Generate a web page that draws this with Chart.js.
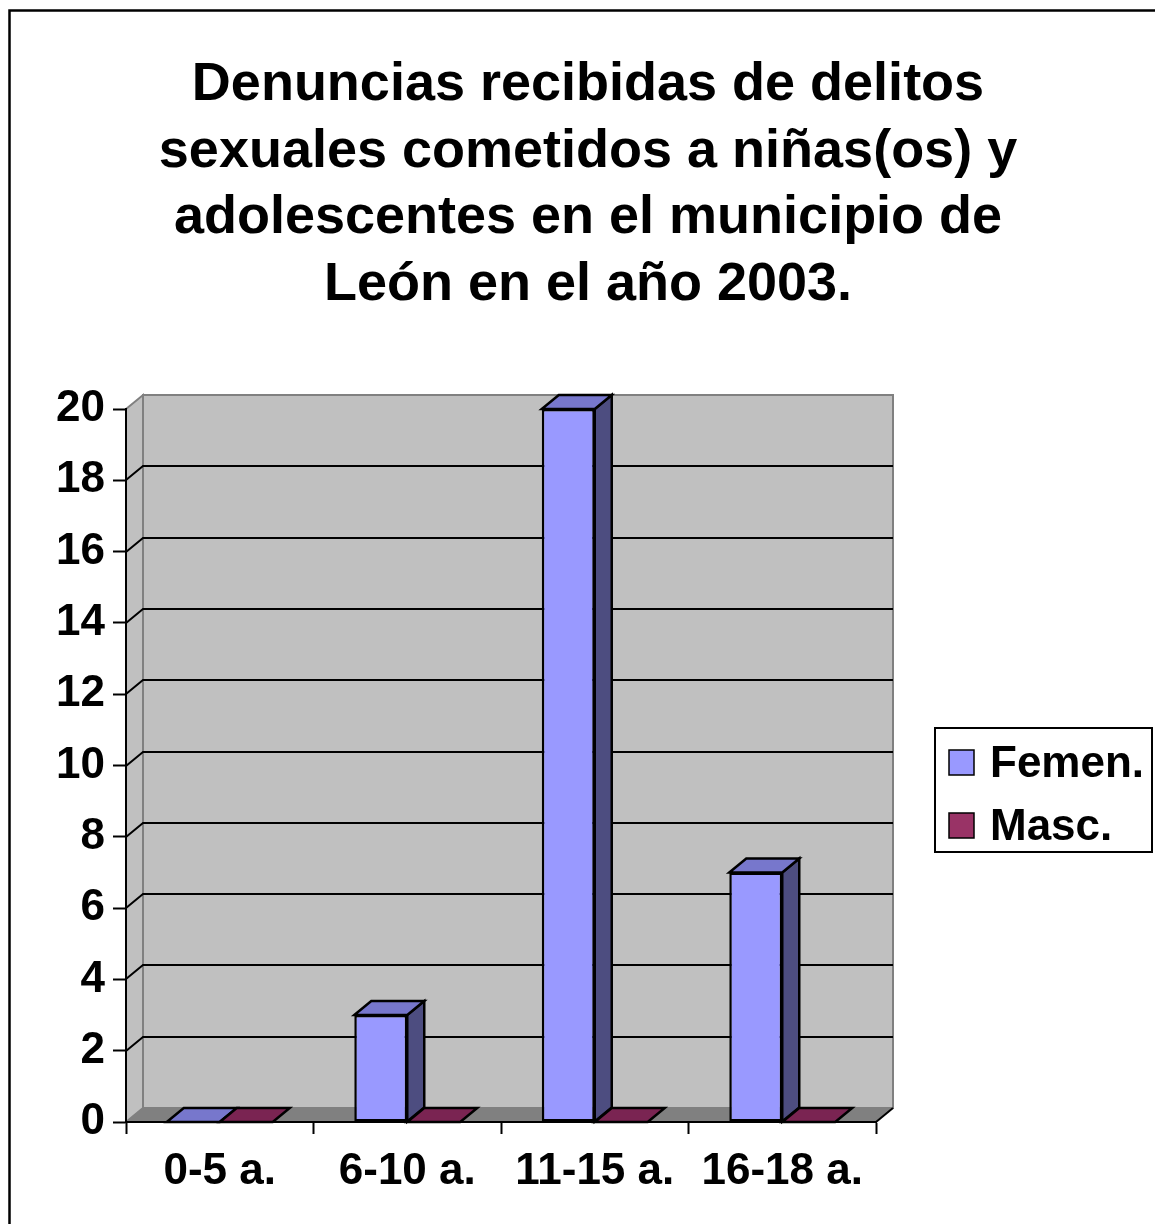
<!DOCTYPE html>
<html>
<head>
<meta charset="utf-8">
<script src="https://cdn.jsdelivr.net/npm/chart.js@4.4.0/dist/chart.umd.min.js"></script>
<style>
  html, body { margin: 0; padding: 0; background: #fff; }
  #wrap { width: 1155px; height: 1224px; position: relative; }
</style>
</head>
<body>
<div id="wrap"><canvas id="chart" width="1155" height="1224"></canvas></div>
<script>
const titleLines = [
  'Denuncias recibidas de delitos',
  'sexuales cometidos a niñas(os) y',
  'adolescentes en el municipio de',
  'León en el año 2003.'
];
const categories = ['0-5 a.', '6-10 a.', '11-15 a.', '16-18 a.'];
const femenValues = [0, 3, 20, 7];
const mascValues = [0, 0, 0, 0];
const seriesNames = ['Femen.', 'Masc.'];
const yMax = 20;
const yStep = 2;

const FONT = '"Liberation Sans", Arial, Helvetica, sans-serif';
// desplazamiento de la profundidad 3D
const DX = 17, DY = -14;
const faceColors = [
  { front: '#9999FF', top: '#7777CC', side: '#4D4D80' },
  { front: '#993366', top: '#7A2452', side: '#4D1A33' }
];

function poly(ctx, pts, fill, stroke, lw) {
  ctx.beginPath();
  ctx.moveTo(pts[0][0], pts[0][1]);
  for (let i = 1; i < pts.length; i++) ctx.lineTo(pts[i][0], pts[i][1]);
  ctx.closePath();
  if (fill) { ctx.fillStyle = fill; ctx.fill(); }
  if (stroke) { ctx.strokeStyle = stroke; ctx.lineWidth = lw; ctx.stroke(); }
}

const box3d = {
  id: 'box3d',
  beforeDraw(chart) {
    const ctx = chart.ctx;
    const { left, right, top, bottom } = chart.chartArea;
    const y = chart.scales.y;
    ctx.save();
    ctx.fillStyle = '#fff';
    ctx.fillRect(0, 0, chart.width, chart.height);

    // marco exterior
    ctx.strokeStyle = '#000';
    ctx.lineWidth = 2.5;
    ctx.strokeRect(9.5, 10.5, 1300, 1400);

    // titulo
    ctx.fillStyle = '#000';
    ctx.font = 'bold 54px ' + FONT;
    ctx.textAlign = 'center';
    ctx.textBaseline = 'alphabetic';
    titleLines.forEach((t, i) => ctx.fillText(t, 588, 100 + i * 66.7));

    // pared lateral, pared de fondo y piso
    poly(ctx, [[left, top], [left + DX, top + DY], [left + DX, bottom + DY], [left, bottom]], '#C0C0C0', '#808080', 2);
    poly(ctx, [[left + DX, top + DY], [right + DX, top + DY], [right + DX, bottom + DY], [left + DX, bottom + DY]], '#C0C0C0', '#808080', 2);
    poly(ctx, [[left, bottom], [left + DX, bottom + DY], [right + DX, bottom + DY], [right, bottom]], '#808080', null, 0);
    ctx.strokeStyle = '#000';
    ctx.lineWidth = 2;
    ctx.beginPath();
    ctx.moveTo(right, bottom);
    ctx.lineTo(right + DX, bottom + DY);
    ctx.stroke();

    // lineas de division
    for (let v = yStep; v < yMax; v += yStep) {
      const py = Math.round(y.getPixelForValue(v));
      ctx.beginPath();
      ctx.moveTo(left, py);
      ctx.lineTo(left + DX, py + DY);
      ctx.lineTo(right + DX, py + DY);
      ctx.stroke();
    }
    ctx.restore();
  },
  beforeDatasetsDraw(chart) {
    const ctx = chart.ctx;
    ctx.save();
    ctx.lineJoin = 'miter';
    chart.data.datasets.forEach((ds, di) => {
      const meta = chart.getDatasetMeta(di);
      const c = faceColors[di];
      meta.data.forEach(bar => {
        const x0 = bar.x - bar.width / 2;
        const x1 = bar.x + bar.width / 2;
        const yt = bar.y, yb = bar.base;
        // cara lateral
        if (yb - yt > 0.5) {
          poly(ctx, [[x1, yt], [x1 + DX, yt + DY], [x1 + DX, yb + DY], [x1, yb]], c.side, '#000', 2.5);
        }
        // cara superior
        poly(ctx, [[x0, yt], [x0 + DX, yt + DY], [x1 + DX, yt + DY], [x1, yt]], c.top, '#000', 2.5);
      });
    });
    ctx.restore();
  },
  afterDraw(chart) {
    const ctx = chart.ctx;
    ctx.save();
    // leyenda
    ctx.strokeStyle = '#000';
    ctx.lineWidth = 2;
    ctx.strokeRect(935, 728, 217, 124);
    ctx.font = 'bold 44px ' + FONT;
    ctx.textAlign = 'left';
    ctx.textBaseline = 'alphabetic';
    chart.data.datasets.forEach((ds, i) => {
      const sy = 750 + i * 63;
      ctx.fillStyle = ds.backgroundColor;
      ctx.fillRect(949, sy, 25, 25);
      ctx.lineWidth = 1.5;
      ctx.strokeRect(949, sy, 25, 25);
      ctx.fillStyle = '#000';
      ctx.fillText(ds.label, 990, sy + 27);
    });
    ctx.restore();
  }
};

new Chart(document.getElementById('chart'), {
  type: 'bar',
  data: {
    labels: categories,
    datasets: [
      { label: seriesNames[0], data: femenValues, backgroundColor: faceColors[0].front },
      { label: seriesNames[1], data: mascValues, backgroundColor: faceColors[1].front }
    ]
  },
  options: {
    responsive: false,
    animation: false,
    events: [],
    layout: { padding: { top: 409, right: 279, bottom: 0, left: 0 } },
    datasets: {
      bar: {
        categoryPercentage: 0.565,
        barPercentage: 1,
        borderColor: '#000',
        borderWidth: 2.5,
        borderSkipped: false
      }
    },
    plugins: {
      legend: { display: false },
      title: { display: false },
      tooltip: { enabled: false }
    },
    scales: {
      x: {
        afterFit: s => { s.height = 102; },
        grid: { drawOnChartArea: false, drawTicks: true, tickLength: 12, tickColor: '#000', tickWidth: 2, offset: true },
        border: { color: '#000', width: 2 },
        ticks: { color: '#000', font: { family: FONT, size: 44, weight: 'bold' }, padding: 11 }
      },
      y: {
        min: 0,
        max: yMax,
        afterFit: s => { s.width = 126; },
        grid: { drawOnChartArea: false, drawTicks: true, tickLength: 13, tickColor: '#000', tickWidth: 2 },
        border: { color: '#000', width: 2 },
        ticks: { stepSize: yStep, color: '#000', font: { family: FONT, size: 44, weight: 'bold' }, padding: 8 }
      }
    }
  },
  plugins: [box3d]
});
</script>
</body>
</html>
